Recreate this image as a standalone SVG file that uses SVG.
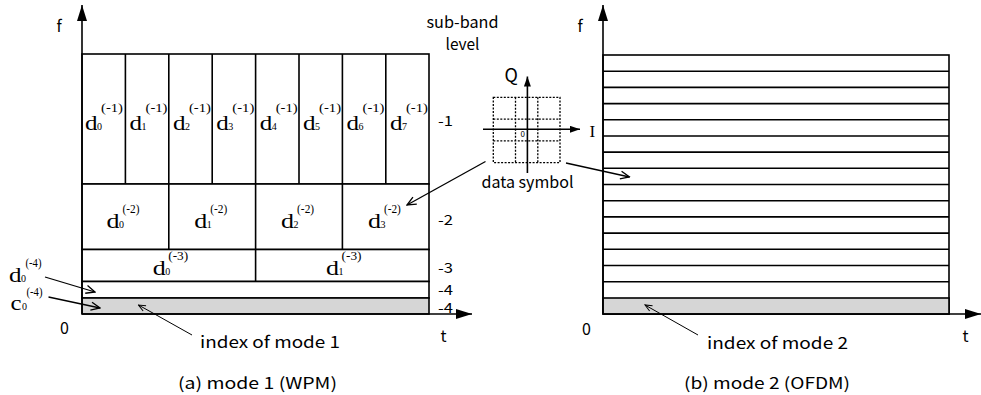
<svg xmlns="http://www.w3.org/2000/svg" width="981" height="395" viewBox="0 0 981 395">
<style>
.bg{fill:#fff}
.ln{stroke:#000;stroke-width:1.6;fill:none}
.cell{stroke:#000;stroke-width:1.6;fill:#fff}
.gray{stroke:#000;stroke-width:1.6;fill:#d6d6d6}
.dot{stroke:#000;stroke-width:1.3;fill:none;stroke-dasharray:2 1.5}
.thin{stroke:#000;stroke-width:1;fill:none}
.mid{stroke:#000;stroke-width:1.3;fill:none}
.g{font-family:"Noto Sans CJK JP","DejaVu Sans",sans-serif;font-size:16px;fill:#000}
.lv{font-size:14px}
.s{font-family:"Liberation Serif","Times New Roman",serif;fill:#000}
.dd{font-size:20px}
.dl{font-size:21px}
.sub{font-size:11px}
.sup{font-size:12px}
</style>
<defs>
<marker id="big" markerUnits="userSpaceOnUse" markerWidth="16" markerHeight="10" refX="16" refY="5" orient="auto"><path d="M0,0 L16,5 L0,10 Z" fill="#000"/></marker>
<marker id="small" markerUnits="userSpaceOnUse" markerWidth="10" markerHeight="7" refX="10" refY="3.5" orient="auto"><path d="M0,0 L10,3.5 L0,7 Z" fill="#000"/></marker>
<marker id="open" markerUnits="userSpaceOnUse" markerWidth="11" markerHeight="10" refX="10" refY="5" orient="auto"><path d="M1,1 L10,5 L1,9" fill="none" stroke="#000" stroke-width="1.3"/></marker>
<marker id="open2" markerUnits="userSpaceOnUse" markerWidth="9" markerHeight="8" refX="8" refY="4" orient="auto"><path d="M1,1 L8,4 L1,7" fill="none" stroke="#000" stroke-width="1"/></marker>
</defs>
<rect class="bg" x="0" y="0" width="981" height="395"/>

<!-- Left panel: WPM -->
<g id="wpm-grid">
<rect class="cell" x="82" y="54" width="347" height="130"/>
<rect class="cell" x="82" y="184" width="347" height="65.5"/>
<rect class="cell" x="82" y="249.5" width="347" height="32"/>
<rect class="cell" x="82" y="281.5" width="347" height="16.5"/>
<rect class="gray" x="82" y="298" width="347" height="16"/>
<path class="ln" d="M125.4,54V184M168.8,54V249.5M212.2,54V184M255.6,54V281.5M299,54V184M342.4,54V249.5M385.8,54V184"/>
</g>

<g id="wpm-labels-l1">
<g transform="translate(85,129.5)"><text class="s dd" x="0" y="0" textLength="12.5" lengthAdjust="spacingAndGlyphs">d</text><text class="s sub" x="12" y="0" textLength="5" lengthAdjust="spacingAndGlyphs">0</text><text class="s sup" x="16" y="-18" textLength="22" lengthAdjust="spacingAndGlyphs">(-1)</text></g>
<g transform="translate(129.5,129.5)"><text class="s dd" x="0" y="0" textLength="12.5" lengthAdjust="spacingAndGlyphs">d</text><text class="s sub" x="12" y="0" textLength="5" lengthAdjust="spacingAndGlyphs">1</text><text class="s sup" x="16" y="-18" textLength="22" lengthAdjust="spacingAndGlyphs">(-1)</text></g>
<g transform="translate(172.9,129.5)"><text class="s dd" x="0" y="0" textLength="12.5" lengthAdjust="spacingAndGlyphs">d</text><text class="s sub" x="12" y="0" textLength="5" lengthAdjust="spacingAndGlyphs">2</text><text class="s sup" x="16" y="-18" textLength="22" lengthAdjust="spacingAndGlyphs">(-1)</text></g>
<g transform="translate(216.3,129.5)"><text class="s dd" x="0" y="0" textLength="12.5" lengthAdjust="spacingAndGlyphs">d</text><text class="s sub" x="12" y="0" textLength="5" lengthAdjust="spacingAndGlyphs">3</text><text class="s sup" x="16" y="-18" textLength="22" lengthAdjust="spacingAndGlyphs">(-1)</text></g>
<g transform="translate(259.7,129.5)"><text class="s dd" x="0" y="0" textLength="12.5" lengthAdjust="spacingAndGlyphs">d</text><text class="s sub" x="12" y="0" textLength="5" lengthAdjust="spacingAndGlyphs">4</text><text class="s sup" x="16" y="-18" textLength="22" lengthAdjust="spacingAndGlyphs">(-1)</text></g>
<g transform="translate(303.1,129.5)"><text class="s dd" x="0" y="0" textLength="12.5" lengthAdjust="spacingAndGlyphs">d</text><text class="s sub" x="12" y="0" textLength="5" lengthAdjust="spacingAndGlyphs">5</text><text class="s sup" x="16" y="-18" textLength="22" lengthAdjust="spacingAndGlyphs">(-1)</text></g>
<g transform="translate(346.5,129.5)"><text class="s dd" x="0" y="0" textLength="12.5" lengthAdjust="spacingAndGlyphs">d</text><text class="s sub" x="12" y="0" textLength="5" lengthAdjust="spacingAndGlyphs">6</text><text class="s sup" x="16" y="-18" textLength="22" lengthAdjust="spacingAndGlyphs">(-1)</text></g>
<g transform="translate(389.9,129.5)"><text class="s dd" x="0" y="0" textLength="12.5" lengthAdjust="spacingAndGlyphs">d</text><text class="s sub" x="12" y="0" textLength="5" lengthAdjust="spacingAndGlyphs">7</text><text class="s sup" x="16" y="-18" textLength="22" lengthAdjust="spacingAndGlyphs">(-1)</text></g>
</g>

<g id="wpm-labels-l2">
<g transform="translate(106.5,228)"><text class="s dl" x="0" y="0" textLength="13" lengthAdjust="spacingAndGlyphs">d</text><text class="s sub" x="12.5" y="0" textLength="5" lengthAdjust="spacingAndGlyphs">0</text><text class="s sup" x="16" y="-15" textLength="17" lengthAdjust="spacingAndGlyphs">(-2)</text></g>
<g transform="translate(194.3,228)"><text class="s dl" x="0" y="0" textLength="13" lengthAdjust="spacingAndGlyphs">d</text><text class="s sub" x="12.5" y="0" textLength="5" lengthAdjust="spacingAndGlyphs">1</text><text class="s sup" x="16" y="-15" textLength="17" lengthAdjust="spacingAndGlyphs">(-2)</text></g>
<g transform="translate(281.1,228)"><text class="s dl" x="0" y="0" textLength="13" lengthAdjust="spacingAndGlyphs">d</text><text class="s sub" x="12.5" y="0" textLength="5" lengthAdjust="spacingAndGlyphs">2</text><text class="s sup" x="16" y="-15" textLength="17" lengthAdjust="spacingAndGlyphs">(-2)</text></g>
<g transform="translate(367.9,228)"><text class="s dl" x="0" y="0" textLength="13" lengthAdjust="spacingAndGlyphs">d</text><text class="s sub" x="12.5" y="0" textLength="5" lengthAdjust="spacingAndGlyphs">3</text><text class="s sup" x="16" y="-15" textLength="17" lengthAdjust="spacingAndGlyphs">(-2)</text></g>
</g>

<g id="wpm-labels-l3">
<g transform="translate(152.7,275)"><text class="s dl" x="0" y="0" textLength="13" lengthAdjust="spacingAndGlyphs">d</text><text class="s sub" x="12.5" y="0" textLength="5" lengthAdjust="spacingAndGlyphs">0</text><text class="s sup" x="15.5" y="-15" textLength="20" lengthAdjust="spacingAndGlyphs">(-3)</text></g>
<g transform="translate(326,275)"><text class="s dl" x="0" y="0" textLength="13" lengthAdjust="spacingAndGlyphs">d</text><text class="s sub" x="12.5" y="0" textLength="5" lengthAdjust="spacingAndGlyphs">1</text><text class="s sup" x="15.5" y="-15" textLength="20" lengthAdjust="spacingAndGlyphs">(-3)</text></g>
</g>

<g id="wpm-labels-l4">
<g transform="translate(9,281.5)"><text class="s dl" x="0" y="0" textLength="12.5" lengthAdjust="spacingAndGlyphs">d</text><text class="s sub" x="12" y="0" textLength="5" lengthAdjust="spacingAndGlyphs">0</text><text class="s sup" x="16.5" y="-15" textLength="16" lengthAdjust="spacingAndGlyphs">(-4)</text></g>
<g transform="translate(10.5,310)"><text class="s dl" x="0" y="0" textLength="11" lengthAdjust="spacingAndGlyphs">c</text><text class="s sub" x="11.5" y="0" textLength="5" lengthAdjust="spacingAndGlyphs">0</text><text class="s sup" x="16" y="-14" textLength="16" lengthAdjust="spacingAndGlyphs">(-4)</text></g>
</g>

<g id="wpm-axes">
<line class="ln" x1="82" y1="314" x2="82" y2="5" marker-end="url(#big)"/>
<line class="ln" x1="82" y1="314" x2="472" y2="314" marker-end="url(#big)"/>
<text class="g" x="56.5" y="32">f</text>
<text class="g" x="440.5" y="342">t</text>
<text class="g" x="60" y="334">0</text>
</g>

<g id="levels">
<text class="g" x="426.5" y="28" textLength="72" lengthAdjust="spacingAndGlyphs">sub-band</text>
<text class="g" x="445.5" y="50" textLength="34" lengthAdjust="spacingAndGlyphs">level</text>
<text class="g lv" x="438" y="126" textLength="15" lengthAdjust="spacingAndGlyphs">-1</text>
<text class="g lv" x="438" y="225" textLength="15" lengthAdjust="spacingAndGlyphs">-2</text>
<text class="g lv" x="438" y="273" textLength="15" lengthAdjust="spacingAndGlyphs">-3</text>
<text class="g lv" x="438" y="295" textLength="15" lengthAdjust="spacingAndGlyphs">-4</text>
<text class="g lv" x="438" y="313" textLength="15" lengthAdjust="spacingAndGlyphs">-4</text>
</g>

<g id="index1">
<text class="g" x="200" y="348" textLength="140" lengthAdjust="spacingAndGlyphs">index of mode 1</text>
</g>
<g id="caption-a">
<text class="g" x="178" y="389" textLength="159" lengthAdjust="spacingAndGlyphs">(a) mode 1 (WPM)</text>
</g>

<!-- Constellation -->
<g id="constellation">
<rect class="dot" x="493.3" y="97.3" width="66.7" height="65.4"/>
<path class="dot" d="M515.5,97.3V162.7M537.8,97.3V162.7M493.3,119.1H560M493.3,140.9H560"/>
<line class="ln" x1="527.4" y1="173" x2="527.4" y2="76.5" marker-end="url(#small)"/>
<line class="ln" x1="483" y1="129.3" x2="580" y2="129.3" marker-end="url(#small)"/>
<text class="g" x="504.5" y="82" style="font-size:18px">Q</text>
<text class="s" x="589.5" y="137" style="font-size:17px">I</text>
<text class="g" x="520.5" y="137" style="font-size:8px">0</text>
<text class="g" x="481.5" y="188" textLength="92" lengthAdjust="spacingAndGlyphs">data symbol</text>
</g>

<!-- Right panel: OFDM -->
<g id="ofdm-grid">
<rect class="cell" x="603" y="55" width="346" height="259"/>
<rect class="gray" x="603" y="298" width="346" height="16"/>
<path class="ln" d="M603,71.2H949M603,87.4H949M603,103.6H949M603,119.8H949M603,136H949M603,152.1H949M603,168.3H949M603,184.5H949M603,200.7H949M603,216.9H949M603,233.1H949M603,249.3H949M603,265.5H949M603,281.7H949"/>
</g>
<g id="ofdm-axes">
<line class="ln" x1="603" y1="314" x2="603" y2="5" marker-end="url(#big)"/>
<line class="ln" x1="603" y1="314" x2="981" y2="314" marker-end="url(#big)"/>
<text class="g" x="577.5" y="32">f</text>
<text class="g" x="962.5" y="342">t</text>
<text class="g" x="582" y="335">0</text>
</g>
<g id="index2">
<text class="g" x="707" y="349" textLength="141" lengthAdjust="spacingAndGlyphs">index of mode 2</text>
</g>
<g id="caption-b">
<text class="g" x="684" y="389" textLength="166" lengthAdjust="spacingAndGlyphs">(b) mode 2 (OFDM)</text>
</g>

<g id="connectors">
<line class="mid" x1="45" y1="277" x2="95" y2="292" marker-end="url(#open)"/>
<line class="mid" x1="48.5" y1="297" x2="100" y2="308" marker-end="url(#open)"/>
<line class="thin" x1="192" y1="335" x2="138.5" y2="305" marker-end="url(#open2)"/>
<line class="thin" x1="698" y1="335" x2="645" y2="305" marker-end="url(#open2)"/>
<line class="mid" x1="485.5" y1="161.5" x2="407" y2="205" marker-end="url(#open)"/>
<line class="mid" x1="566" y1="163" x2="629.5" y2="177" marker-end="url(#open)"/>
</g>
</svg>
